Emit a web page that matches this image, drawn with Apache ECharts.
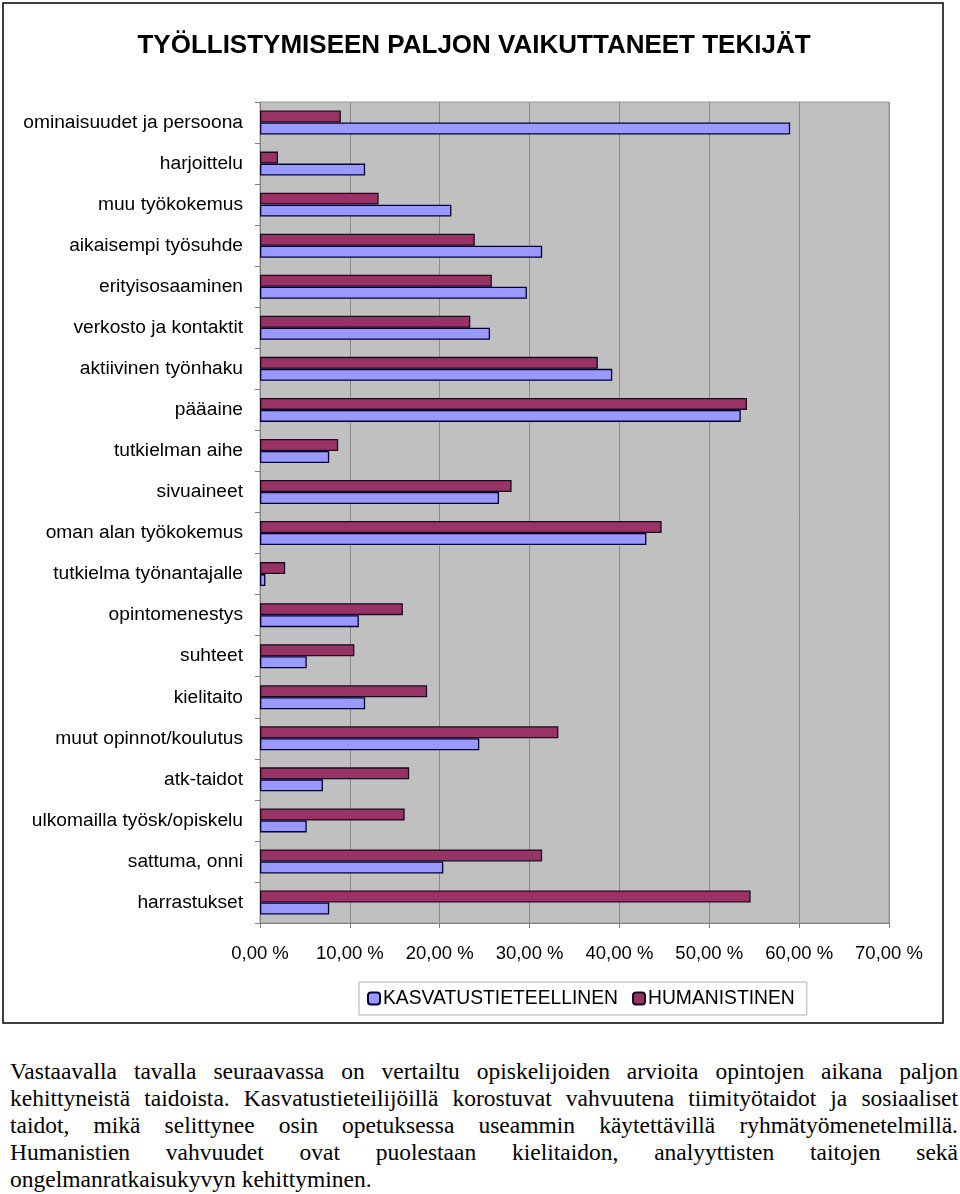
<!DOCTYPE html>
<html><head><meta charset="utf-8">
<script src="https://cdn.jsdelivr.net/npm/echarts@6/dist/echarts.min.js"></script>
<style>
html,body{margin:0;padding:0;background:#fff;width:960px;height:1194px;overflow:hidden;}
#chart{position:absolute;left:0;top:0;width:960px;height:1030px;}
#para{position:absolute;left:10px;top:1058px;width:948px;font-family:"Liberation Serif","Times New Roman",serif;font-size:23.5px;line-height:27px;color:#000;}
#para div{white-space:nowrap;text-align:justify;text-align-last:justify;}
#para div.last{text-align-last:left;}
</style></head>
<body>
<div id="chart"></div>
<div id="para"><div>Vastaavalla tavalla seuraavassa on vertailtu opiskelijoiden arvioita opintojen aikana paljon</div><div>kehittyneistä taidoista. Kasvatustieteilijöillä korostuvat vahvuutena tiimityötaidot ja sosiaaliset</div><div>taidot, mikä selittynee osin opetuksessa useammin käytettävillä ryhmätyömenetelmillä.</div><div>Humanistien vahvuudet ovat puolestaan kielitaidon, analyyttisten taitojen sekä</div><div class="last">ongelmanratkaisukyvyn kehittyminen.</div></div>
<script>
var categories = ["ominaisuudet ja persoona","harjoittelu","muu työkokemus","aikaisempi työsuhde","erityisosaaminen","verkosto ja kontaktit","aktiivinen työnhaku","pääaine","tutkielman aihe","sivuaineet","oman alan työkokemus","tutkielma työnantajalle","opintomenestys","suhteet","kielitaito","muut opinnot/koulutus","atk-taidot","ulkomailla työsk/opiskelu","sattuma, onni","harrastukset"];
var kasvatus = [59.0,11.7,21.3,31.4,29.7,25.6,39.2,53.5,7.7,26.6,43.0,0.6,11.0,5.2,11.7,24.4,7.0,5.2,20.4,7.7];
var humanist = [9.0,2.0,13.2,23.9,25.8,23.4,37.6,54.2,8.7,28.0,44.7,2.8,15.9,10.5,18.6,33.2,16.6,16.1,31.4,54.6];
var seriesNames = ["KASVATUSTIETEELLINEN","HUMANISTINEN"];
var xTicks = [0,10,20,30,40,50,60,70];
var titleText = "TYÖLLISTYMISEEN PALJON VAIKUTTANEET TEKIJÄT";

var chart = echarts.init(document.getElementById('chart'), null, {renderer:'canvas'});
var font = '"Liberation Sans", Arial, sans-serif';
chart.setOption({
  animation:false,
  textStyle:{fontFamily:font},
  graphic:[
    {type:'rect',shape:{x:3,y:3,width:940,height:1020},style:{fill:null,stroke:'#000',lineWidth:1.5},z:-1},
    {type:'text',x:474,y:46,style:{text:titleText,font:'bold 26px '+font,fill:'#000',textAlign:'center',textVerticalAlign:'middle'}}
  ],
  grid:{left:260,right:71,top:102,height:821,show:true,backgroundColor:'#C0C0C0',borderColor:'#9a9a9a',borderWidth:1},
  legend:{
    data:seriesNames,
    left:359, top:982,
    itemWidth:12,itemHeight:12,itemGap:14,
    padding:[7,12,7,8],
    borderColor:'#b0b0b0',borderWidth:1,
    textStyle:{fontSize:19.3,color:'#000',fontFamily:font,padding:[0,0,0,-2]}
  },
  xAxis:{
    type:'value',min:xTicks[0],max:xTicks[xTicks.length-1],interval:10,
    axisLine:{show:true,lineStyle:{color:'#808080'}},
    axisTick:{show:true,length:5,lineStyle:{color:'#808080'}},
    splitLine:{show:true,lineStyle:{color:'#8c8c8c',width:1}},
    axisLabel:{fontSize:18.5,color:'#000',margin:21,fontFamily:font,formatter:function(v){return v.toFixed(2).replace('.',',')+' %';}}
  },
  yAxis:{
    type:'category',data:categories,inverse:true,
    axisLine:{show:true,lineStyle:{color:'#808080'}},
    axisTick:{show:true,length:5,lineStyle:{color:'#808080'}},
    axisLabel:{fontSize:19.2,color:'#000',margin:17,fontFamily:font}
  },
  series:[
    {name:seriesNames[1],type:'bar',data:humanist,barWidth:12,barGap:'0%',itemStyle:{color:'#993366',borderColor:'#1a0a20',borderWidth:1.3}},
    {name:seriesNames[0],type:'bar',data:kasvatus,barWidth:12,barGap:'0%',itemStyle:{color:'#9999FF',borderColor:'#000033',borderWidth:1.3}}
  ]
});
</script>
</body></html>
